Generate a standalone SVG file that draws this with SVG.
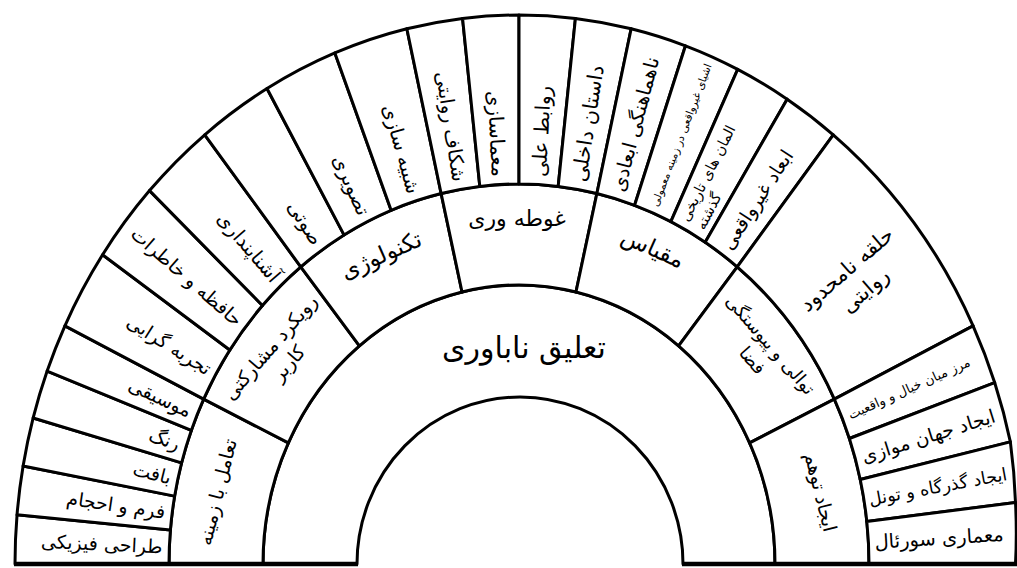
<svg xmlns="http://www.w3.org/2000/svg" width="1017" height="568" viewBox="0 0 1017 568">
<style>
.cell{fill:#fff;stroke:#000;stroke-width:3;stroke-linejoin:round}
.t{font-family:'DejaVu Sans','Noto Sans',sans-serif;fill:#000;dominant-baseline:central}
.l{text-anchor:end}
.r{text-anchor:start}
.m{text-anchor:middle}
</style>
<rect width="1017" height="568" fill="#fff"/>
<g id="ring-a">
<g id="n-taliq"><path class="cell" d="M263 564 A256 279 0 0 1 775 564 L683 564 A163 167 0 0 0 357 564 Z"/>
<text class="t m" font-size="30" transform="translate(524,347)">تعلیق ناباوری</text></g>
</g>
<g id="ring-b">
<g id="n-taamol"><path class="cell" d="M263 564 L169 564 A350 380 0 0 1 203.66 399.12 L288.35 442.95 A256 279 0 0 0 263 564 Z"/>
<text class="t m" font-size="19" transform="translate(217,492) rotate(-76.06)">تعامل با زمینه</text></g>
<g id="n-rooykard"><path class="cell" d="M288.35 442.95 L203.66 399.12 A350 380 0 0 1 300.78 266.9 L359.39 345.87 A256 279 0 0 0 288.35 442.95 Z"/>
<text class="t m" font-size="19" transform="translate(279,355) rotate(-49.05)"><tspan x="0" y="-12">رویکرد مشارکتی</tspan><tspan x="0" y="12">کاربر</tspan></text></g>
<g id="n-technology"><path class="cell" d="M359.39 345.87 L300.78 266.9 A350 380 0 0 1 441.12 193.53 L462.03 292 A256 279 0 0 0 359.39 345.87 Z"/>
<text class="t m" font-size="23" transform="translate(381,255) rotate(-23.88)">تکنولوژی</text></g>
<g id="n-ghoote"><path class="cell" d="M462.03 292 L441.12 193.53 A350 380 0 0 1 596.88 193.53 L575.97 292 A256 279 0 0 0 462.03 292 Z"/>
<text class="t m" font-size="22" transform="translate(517,218)">غوطه وری</text></g>
<g id="n-meghyas"><path class="cell" d="M575.97 292 L596.88 193.53 A350 380 0 0 1 737.22 266.9 L678.61 345.87 A256 279 0 0 0 575.97 292 Z"/>
<text class="t m" font-size="23" transform="translate(653,248) rotate(23.88)">مقیاس</text></g>
<g id="n-tavali"><path class="cell" d="M678.61 345.87 L737.22 266.9 A350 380 0 0 1 834.34 399.12 L749.65 442.95 A256 279 0 0 0 678.61 345.87 Z"/>
<text class="t m" font-size="18" transform="translate(762,352) rotate(49.05)"><tspan x="0" y="-12">توالی و پیوستگی</tspan><tspan x="0" y="12">فضا</tspan></text></g>
<g id="n-tavahom"><path class="cell" d="M749.65 442.95 L834.34 399.12 A350 380 0 0 1 869 564 L775 564 A256 279 0 0 0 749.65 442.95 Z"/>
<text class="t m" font-size="19" transform="translate(821,492) rotate(76.06)">ایجاد توهم</text></g>
</g>
<g id="ring-c">
<g id="n-c1"><path class="cell" d="M169 564 L15 564 A504 549 0 0 1 17.03 514.79 L170.41 529.94 A350 380 0 0 0 169 564 Z"/>
<text class="t l" font-size="19" transform="translate(162.4,546.6) rotate(2.8)">طراحی فیزیکی</text></g>
<g id="n-c2"><path class="cell" d="M170.41 529.94 L17.03 514.79 A504 549 0 0 1 23.1 465.97 L174.62 496.15 A350 380 0 0 0 170.41 529.94 Z"/>
<text class="t l" font-size="19" transform="translate(165.2,512) rotate(8.38)">فرم و احجام</text></g>
<g id="n-c3"><path class="cell" d="M174.62 496.15 L23.1 465.97 A504 549 0 0 1 33.16 417.95 L181.61 462.91 A350 380 0 0 0 174.62 496.15 Z"/>
<text class="t l" font-size="19" transform="translate(171,477.6) rotate(13.95)">بافت</text></g>
<g id="n-c4"><path class="cell" d="M181.61 462.91 L33.16 417.95 A504 549 0 0 1 47.14 371.1 L191.32 430.48 A350 380 0 0 0 181.61 462.91 Z"/>
<text class="t l" font-size="19" transform="translate(179.5,444.1) rotate(19.47)">رنگ</text></g>
<g id="n-c5"><path class="cell" d="M191.32 430.48 L47.14 371.1 A504 549 0 0 1 64.91 325.8 L203.66 399.12 A350 380 0 0 0 191.32 430.48 Z"/>
<text class="t l" font-size="19" transform="translate(190.7,411.5) rotate(24.94)">موسیقی</text></g>
<g id="n-c6"><path class="cell" d="M203.66 399.12 L64.91 325.8 A504 549 0 0 1 102.58 254.74 L229.82 349.94 A350 380 0 0 0 203.66 399.12 Z"/>
<text class="t l" font-size="19" transform="translate(209.8,370) rotate(32.13)">تجربه گرایی</text></g>
<g id="n-c7"><path class="cell" d="M229.82 349.94 L102.58 254.74 A504 549 0 0 1 149.54 190.59 L262.43 305.53 A350 380 0 0 0 229.82 349.94 Z"/>
<text class="t l" font-size="19" transform="translate(239.9,322.1) rotate(40.95)">حافظه و خاطرات</text></g>
<g id="n-c8"><path class="cell" d="M262.43 305.53 L149.54 190.59 A504 549 0 0 1 204.76 134.78 L300.78 266.9 A350 380 0 0 0 262.43 305.53 Z"/>
<text class="t l" font-size="19.5" transform="translate(276.2,279.6) rotate(49.53)">آشناپنداری</text></g>
<g id="n-c9"><path class="cell" d="M300.78 266.9 L204.76 134.78 A504 549 0 0 1 267 88.55 L344 234.91 A350 380 0 0 0 300.78 266.9 Z"/>
<text class="t l" font-size="19.5" transform="translate(317.9,243.4) rotate(57.93)">صوتی</text></g>
<g id="n-c10"><path class="cell" d="M344 234.91 L267 88.55 A504 549 0 0 1 334.87 52.95 L391.13 210.27 A350 380 0 0 0 344 234.91 Z"/>
<text class="t l" font-size="19.5" transform="translate(364.1,214.4) rotate(66.12)">تصویری</text></g>
<g id="n-c11"><path class="cell" d="M391.13 210.27 L334.87 52.95 A504 549 0 0 1 406.85 28.76 L441.12 193.53 A350 380 0 0 0 391.13 210.27 Z"/>
<text class="t l" font-size="19.5" transform="translate(413.8,193.2) rotate(74.19)">شبیه سازی</text></g>
<g id="n-c12"><path class="cell" d="M441.12 193.53 L406.85 28.76 A504 549 0 0 1 462.57 18.45 L479.81 186.39 A350 380 0 0 0 441.12 193.53 Z"/>
<text class="t l" font-size="19.5" transform="translate(459.2,181.5) rotate(81.14)">شکاف روایتی</text></g>
<g id="n-c13"><path class="cell" d="M479.81 186.39 L462.57 18.45 A504 549 0 0 1 519 15 L519 184 A350 380 0 0 0 479.81 186.39 Z"/>
<text class="t l" font-size="20" transform="translate(499,176.6) rotate(87.05)">معماسازی</text></g>
<g id="n-c14"><path class="cell" d="M519 184 L519 15 A504 549 0 0 1 575.43 18.45 L558.19 186.39 A350 380 0 0 0 519 184 Z"/>
<text class="t r" font-size="20" transform="translate(539,176.6) rotate(-87.05)">روابط علی</text></g>
<g id="n-c15"><path class="cell" d="M558.19 186.39 L575.43 18.45 A504 549 0 0 1 631.15 28.76 L596.88 193.53 A350 380 0 0 0 558.19 186.39 Z"/>
<text class="t r" font-size="20.5" transform="translate(578.8,181.5) rotate(-81.14)">داستان داخلی</text></g>
<g id="n-c16"><path class="cell" d="M596.88 193.53 L631.15 28.76 A504 549 0 0 1 685.47 45.8 L634.6 205.32 A350 380 0 0 0 596.88 193.53 Z"/>
<text class="t r" font-size="19.5" transform="translate(617.8,191.2) rotate(-75.17)">ناهماهنگی ابعادی</text></g>
<g id="n-c17"><path class="cell" d="M634.6 205.32 L685.47 45.8 A504 549 0 0 1 737.68 69.37 L670.86 221.63 A350 380 0 0 0 634.6 205.32 Z"/>
<text class="t r" font-size="10.8" transform="translate(654.6,206) rotate(-69.16)">اشیای غیرواقعی در زمینه معمولی</text></g>
<g id="n-c18"><path class="cell" d="M670.86 221.63 L737.68 69.37 A504 549 0 0 1 787.15 99.15 L705.21 242.24 A350 380 0 0 0 670.86 221.63 Z"/>
<text class="t r" font-size="14.5" transform="translate(691.7,224.4) rotate(-63.05)"><tspan x="0" y="-9">المان های تاریخی</tspan><tspan x="0" y="9">گذشته</tspan></text></g>
<g id="n-c19"><path class="cell" d="M705.21 242.24 L787.15 99.15 A504 549 0 0 1 833.24 134.78 L737.22 266.9 A350 380 0 0 0 705.21 242.24 Z"/>
<text class="t r" font-size="19" transform="translate(725.5,247.5) rotate(-56.89)">ابعاد غیرواقعی</text></g>
<g id="n-c20"><path class="cell" d="M737.22 266.9 L833.24 134.78 A504 549 0 0 1 973.09 325.8 L834.34 399.12 A350 380 0 0 0 737.22 266.9 Z"/>
<text class="t m" font-size="21" transform="translate(856,280) rotate(-40.95)"><tspan x="0" y="-14">حلقه نامحدود</tspan><tspan x="0" y="14">روایتی</tspan></text></g>
<g id="n-c21"><path class="cell" d="M834.34 399.12 L973.09 325.8 A504 549 0 0 1 994.73 382.67 L849.37 438.49 A350 380 0 0 0 834.34 399.12 Z"/>
<text class="t r" font-size="13" transform="translate(848.8,415.5) rotate(-24.26)">مرز میان خیال و واقعیت</text></g>
<g id="n-c22"><path class="cell" d="M849.37 438.49 L994.73 382.67 A504 549 0 0 1 1010.36 441.84 L860.22 479.44 A350 380 0 0 0 849.37 438.49 Z"/>
<text class="t r" font-size="19" transform="translate(862,456.6) rotate(-17.4)">ایجاد جهان موازی</text></g>
<g id="n-c23"><path class="cell" d="M860.22 479.44 L1010.36 441.84 A504 549 0 0 1 1015.5 502.5 L866.8 521.45 A350 380 0 0 0 860.22 479.44 Z"/>
<text class="t r" font-size="17.5" transform="translate(869,499.5) rotate(-10.47)">ایجاد گذرگاه و تونل</text></g>
<g id="n-c24"><path class="cell" d="M866.8 521.45 L1015.5 502.5 A504 549 0 0 1 1015.5 564 L869 564 A350 380 0 0 0 866.8 521.45 Z"/>
<text class="t r" font-size="19.5" transform="translate(874.5,542.3) rotate(-3.49)">معماری سورئال</text></g>
</g>
<g id="connectors"/>
<path d="M14 564 H358 M682 564 H1017" stroke="#000" stroke-width="4.5" fill="none"/>
</svg>
